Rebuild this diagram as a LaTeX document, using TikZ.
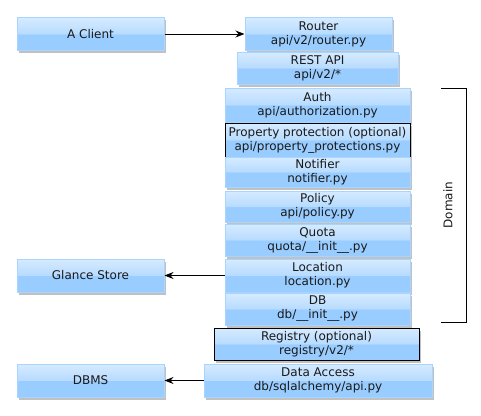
\documentclass[tikz,border=0pt]{standalone}
\usepackage{fontspec}
\setmainfont{DejaVu Sans}
\usetikzlibrary{shadows,arrows.meta}

\definecolor{boxline}{HTML}{A8D4FF}
\definecolor{boxlow}{HTML}{99CCFF}
\definecolor{boxmid}{HTML}{B7DBFF}
\definecolor{boxtop}{HTML}{D6EBFF}
\definecolor{textgray}{HTML}{1A1A1A}

\pgfdeclareverticalshading{layershade}{100bp}{%
  color(0bp)=(boxlow); color(50bp)=(boxlow); color(50bp)=(boxmid);
  color(75bp)=(boxtop); color(100bp)=(boxtop)}

\tikzset{every picture/.style={line width=0.75pt}}
\tikzset{
  layer/.style={draw=boxline, line width=1pt, shading=layershade, align=center,
    text=textgray, inner sep=0pt, minimum height=33pt,
    font=\fontsize{12}{14}\selectfont,
    drop shadow={shadow xshift=2pt, shadow yshift=-2.5pt, opacity=0.35, fill=black!70}},
  optlayer/.style={layer, draw=black},
  link/.style={-{Stealth[length=9pt,width=7pt]}, line width=0.9pt}
}

\begin{document}
\begin{tikzpicture}[x=1pt,y=1pt,yscale=-1,xscale=1]
		\useasboundingbox (0,0) rectangle (481,415);

		% left side
		\node [layer, minimum width=147pt] (client) at (90.5,34) {A Client};
		\node [layer, minimum width=147pt] (store) at (90.5,275.5) {Glance Store};
		\node [layer, minimum width=147pt] (dbms) at (90.5,380.5) {DBMS};

		% stack of layers
		\node [layer, minimum width=147pt] (router) at (318.5,34) {Router\\api/v2/router.py};
		\node [layer, minimum width=161pt, minimum height=32pt] (rest) at (317.5,68) {REST API\\api/v2/*};
		\node [layer, minimum width=185pt, minimum height=34pt] (auth) at (317.5,105) {Auth\\api/authorization.py};
		\node [optlayer, minimum width=185pt, minimum height=34pt] (prop) at (317.5,140) {Property protection (optional)\\api/property\_protections.py};
		\node [layer, minimum width=185pt, minimum height=30pt] (notifier) at (317.5,172) {Notifier\\notifier.py};
		\node [layer, minimum width=185pt, minimum height=31pt] (policy) at (317.5,206.5) {Policy\\api/policy.py};
		\node [layer, minimum width=185pt, minimum height=32pt] (quota) at (317.5,240) {Quota\\quota/\_\_init\_\_.py};
		\node [layer, minimum width=185pt] (location) at (317.5,275.5) {Location\\location.py};
		\node [layer, minimum width=185pt, minimum height=32pt] (db) at (317.5,309) {DB\\db/\_\_init\_\_.py};
		\node [optlayer, minimum width=205pt, minimum height=32pt] (registry) at (316.5,344) {Registry (optional)\\registry/v2/*};
		\node [layer, minimum width=228pt] (access) at (318,380.5) {Data Access\\db/sqlalchemy/api.py};

		% arrows
		\draw [link] (client) -- (router);
		\draw [link] (location) -- (store);
		\draw [link] (access) -- (dbms);

		% domain bracket
		\coordinate (dtop) at (441,88);
		\coordinate (dbot) at (441,322);
		\draw (dtop) -- ++(25,0) |- (dbot);
		\node [rotate=90, text=textgray, font=\fontsize{12}{14}\selectfont] (domain) at (448,205) {Domain};

		\end{tikzpicture}
\end{document}
